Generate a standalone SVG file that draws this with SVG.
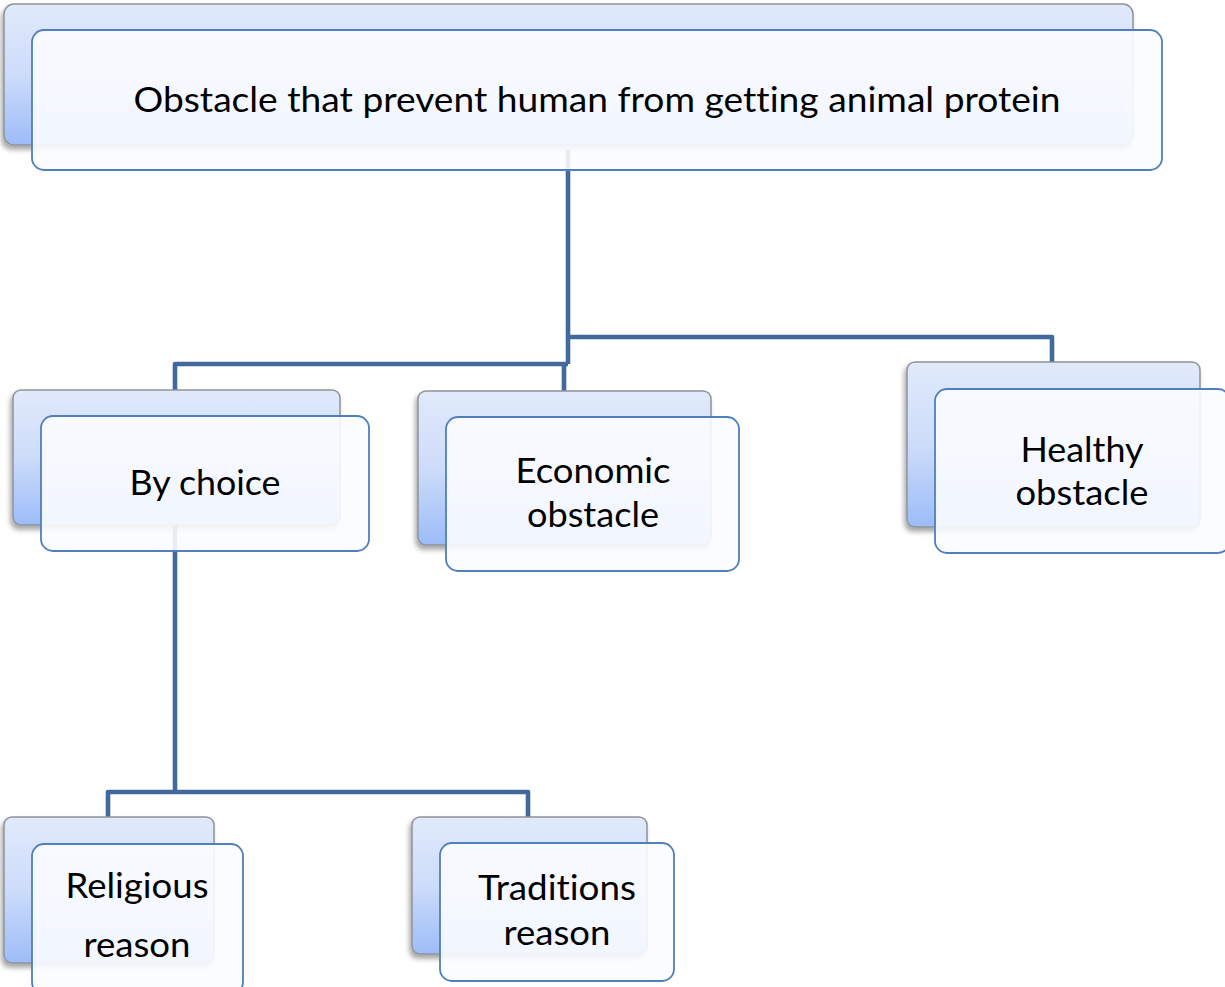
<svg xmlns="http://www.w3.org/2000/svg" width="1225" height="987" viewBox="0 0 1225 987">
<defs>
<linearGradient id="bg" x1="0" y1="0" x2="0" y2="1">
<stop offset="0" stop-color="#e1eafb"/>
<stop offset="0.5" stop-color="#cddcfa"/>
<stop offset="1" stop-color="#9cbcf8"/>
</linearGradient>
<filter id="sh" x="-10%" y="-10%" width="120%" height="130%">
<feDropShadow dx="-2" dy="4" stdDeviation="2.5" flood-color="#000" flood-opacity="0.35"/>
</filter>
</defs>
<style>
.back{fill:url(#bg);stroke:#8f9399;stroke-width:1.5;filter:url(#sh)}
.front{fill:#fbfcff;fill-opacity:0.9;stroke:#4f7fbc;stroke-width:1.8}
.con{fill:none;stroke:#41699c;stroke-width:4.6;stroke-linejoin:round}
text{font-family:Lato,"Liberation Sans",Arial,sans-serif;fill:#000;text-anchor:middle;font-variant-ligatures:none;font-feature-settings:"liga" 0,"clig" 0}
.t{font-size:35px}
</style>
<rect width="1225" height="987" fill="#fff"/>
<g id="connectors">
<path class="con" d="M568 150 V364 M568 337 H1052 V362 M568 364 H175 V390 M564 364 V391 M175 525 V792 M108 817 V792 H528 V817"/>
</g>
<g id="root">
<rect class="back" x="4" y="4" width="1129" height="141" rx="10"/>
<rect class="front" x="32" y="30" width="1130" height="140" rx="12"/>
<text x="597" y="112" class="t" textLength="927" lengthAdjust="spacingAndGlyphs">Obstacle that prevent human from getting animal protein</text>
</g>
<g id="bychoice">
<rect class="back" x="13" y="390" width="327" height="135" rx="8"/>
<rect class="front" x="41" y="416" width="328" height="135" rx="12"/>
<text x="205" y="495" class="t" textLength="151" lengthAdjust="spacingAndGlyphs">By choice</text>
</g>
<g id="economic">
<rect class="back" x="418" y="391" width="293" height="154" rx="8"/>
<rect class="front" x="446" y="417" width="293" height="154" rx="12"/>
<text x="593" y="483" class="t" textLength="155" lengthAdjust="spacingAndGlyphs">Economic</text>
<text x="593" y="527" class="t" textLength="132" lengthAdjust="spacingAndGlyphs">obstacle</text>
</g>
<g id="healthy">
<rect class="back" x="907" y="362" width="293" height="165" rx="8"/>
<rect class="front" x="935" y="389" width="295" height="164" rx="12"/>
<text x="1082" y="462" class="t" textLength="123" lengthAdjust="spacingAndGlyphs">Healthy</text>
<text x="1082" y="505" class="t" textLength="133" lengthAdjust="spacingAndGlyphs">obstacle</text>
</g>
<g id="religious">
<rect class="back" x="4" y="817" width="210" height="146" rx="8"/>
<rect class="front" x="32" y="844" width="211" height="150" rx="12"/>
<text x="137" y="898" class="t" textLength="143" lengthAdjust="spacingAndGlyphs">Religious</text>
<text x="137" y="957" class="t" textLength="107" lengthAdjust="spacingAndGlyphs">reason</text>
</g>
<g id="traditions">
<rect class="back" x="412" y="817" width="235" height="137" rx="8"/>
<rect class="front" x="440" y="843" width="234" height="138" rx="12"/>
<text x="557" y="900" class="t" textLength="158" lengthAdjust="spacingAndGlyphs">Traditions</text>
<text x="557" y="945" class="t" textLength="107" lengthAdjust="spacingAndGlyphs">reason</text>
</g>
</svg>
